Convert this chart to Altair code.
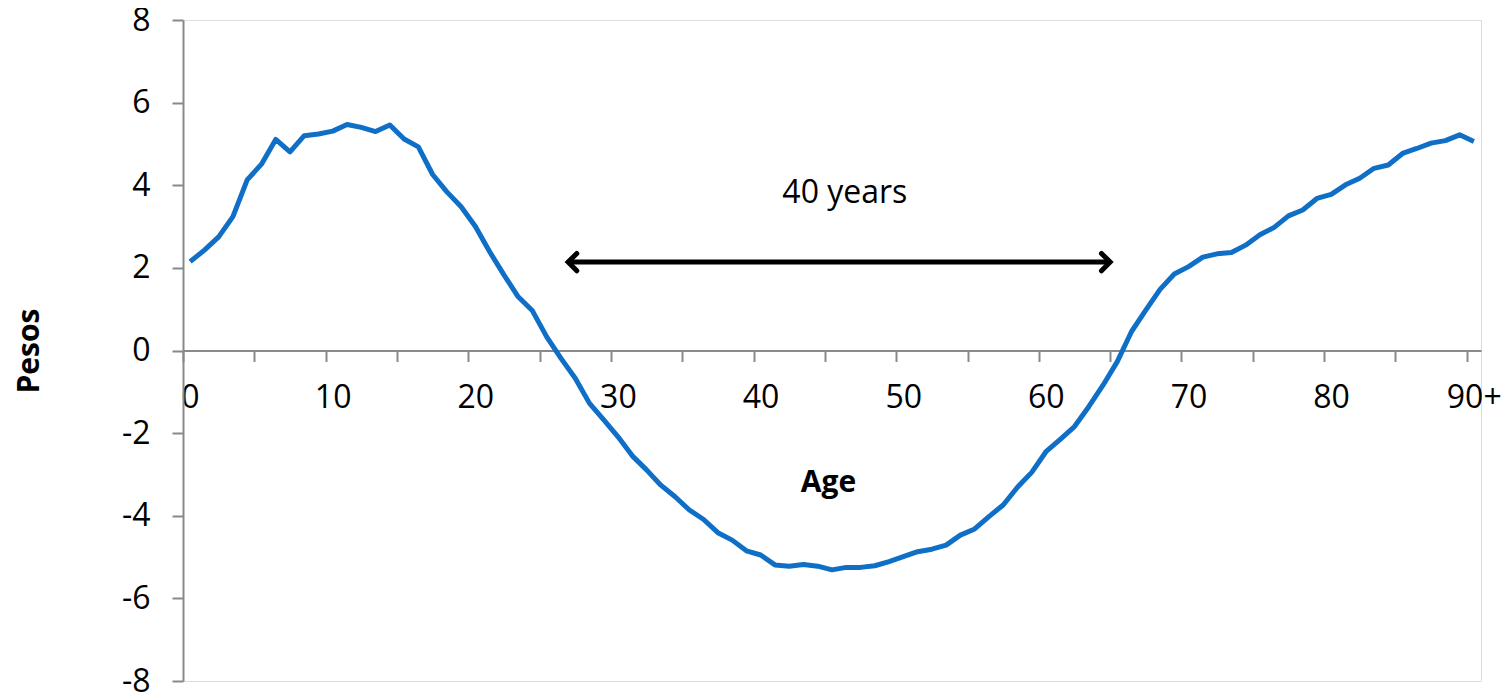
import altair as alt
import pandas as pd

# Data
ages = list(range(91))
pesos = [
    2.15, 2.43, 2.75, 3.24, 4.13, 4.51, 5.11, 4.81, 5.20, 5.24,
    5.31, 5.47, 5.40, 5.30, 5.46, 5.12, 4.93, 4.26, 3.84, 3.48,
    3.00, 2.39, 1.83, 1.30, 0.96, 0.33, -0.19, -0.67, -1.28, -1.68,
    -2.09, -2.55, -2.89, -3.26, -3.54, -3.86, -4.09, -4.41, -4.59, -4.85,
    -4.95, -5.19, -5.22, -5.18, -5.22, -5.31, -5.25, -5.25, -5.21, -5.11,
    -4.99, -4.87, -4.81, -4.71, -4.47, -4.32, -4.02, -3.74, -3.31, -2.95,
    -2.45, -2.15, -1.84, -1.36, -0.84, -0.27, 0.46, 0.98, 1.48, 1.85,
    2.03, 2.26, 2.34, 2.37, 2.55, 2.80, 2.98, 3.26, 3.40, 3.68,
    3.78, 4.01, 4.17, 4.41, 4.49, 4.77, 4.89, 5.02, 5.08, 5.22,
    5.06,
]
x_tick_boundaries = [v - 0.5 for v in range(0, 91, 5)]
y_ticks = [-8, -6, -4, -2, 0, 2, 4, 6, 8]

# Annotation
arrow_start = [26.5]
arrow_end = [64.5]
arrow_level = [2.14]
note_text = ["40 years"]
note_x = [45.9]
note_y = [3.82]

FONT = "Open Sans"
AXIS_GRAY = "#898989"
LINE_BLUE = "#0F6FC6"

df = pd.DataFrame({"age": ages, "pesos": pesos})
arrow_df = pd.DataFrame({"age": arrow_start, "age2": arrow_end, "pesos": arrow_level})
left_df = pd.DataFrame({"age": arrow_start, "pesos": arrow_level})
right_df = pd.DataFrame({"age": arrow_end, "pesos": arrow_level})
note_df = pd.DataFrame({"age": note_x, "pesos": note_y, "label": note_text})

x_scale = alt.Scale(domain=[-0.5, 90.5], nice=False, zero=False)
y_scale = alt.Scale(domain=[-8, 8], nice=False, zero=False)

x_axis = alt.Axis(
    values=x_tick_boundaries,
    labelExpr="(datum.value + 0.5) % 10 == 0 ? ((datum.value + 0.5) == 90 ? '90+' : format(datum.value + 0.5, 'd')) : ''",
    labelOffset=7,
    labelFlush=False,
    labelOverlap=False,
    labelFont=FONT,
    labelFontSize=32,
    labelColor="black",
    labelPadding=21,
    tickSize=11,
    tickColor=AXIS_GRAY,
    tickWidth=2,
    domainColor=AXIS_GRAY,
    domainWidth=2,
    grid=False,
    offset=-330.5,
    orient="bottom",
    title="Age",
    titleFont=FONT,
    titleFontSize=30,
    titleFontWeight="bold",
    titleColor="black",
    titleX=645,
    titleY=140.5,
    titleAlign="center",
    titleBaseline="alphabetic",
)

y_axis = alt.Axis(
    values=y_ticks,
    labelExpr="datum.value + ''",
    labelFont=FONT,
    labelFontSize=32,
    labelColor="black",
    labelPadding=22,
    tickSize=11,
    tickColor=AXIS_GRAY,
    tickWidth=2,
    domainColor=AXIS_GRAY,
    domainWidth=2,
    grid=False,
    title="Pesos",
    titleFont=FONT,
    titleFontSize=30,
    titleFontWeight="bold",
    titleColor="black",
    titleAngle=270,
    titleX=-145,
    titleY=330.5,
    titleAlign="center",
    titleBaseline="alphabetic",
)

X = alt.X("age:Q", scale=x_scale, axis=x_axis)
Y = alt.Y("pesos:Q", scale=y_scale, axis=y_axis)

line = alt.Chart(df).mark_line(color=LINE_BLUE, strokeWidth=5, strokeJoin="round").encode(x=X, y=Y)

arrow = alt.Chart(arrow_df).mark_rule(color="black", strokeWidth=5).encode(
    x=X, x2="age2:Q", y=Y
)
left_head = alt.Chart(left_df).mark_point(
    shape="M 1 -1 L 0 0 L 1 1", size=300, filled=False, stroke="black",
    strokeWidth=5, strokeCap="round", strokeJoin="miter", opacity=1
).encode(x=X, y=Y)
right_head = alt.Chart(right_df).mark_point(
    shape="M -1 -1 L 0 0 L -1 1", size=300, filled=False, stroke="black",
    strokeWidth=5, strokeCap="round", strokeJoin="miter", opacity=1
).encode(x=X, y=Y)
note = alt.Chart(note_df).mark_text(
    font=FONT, fontSize=32, color="black", align="center", baseline="middle"
).encode(x=X, y=Y, text="label:N")

chart = alt.layer(line, arrow, left_head, right_head, note).properties(
    width=1298,
    height=661,
    autosize=alt.AutoSizeParams(type="none"),
    padding={"left": 175, "top": 12, "right": 20, "bottom": 15},
).configure_view(stroke=None).configure(background="white")

chart.save("out.html", embed_options={"renderer": "svg", "actions": False})
